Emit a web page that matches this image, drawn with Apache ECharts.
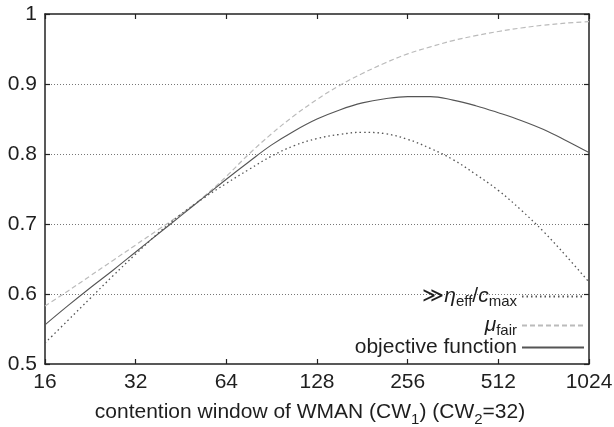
<!DOCTYPE html>
<html>
<head>
<meta charset="utf-8">
<script src="https://cdn.jsdelivr.net/npm/echarts@6/dist/echarts.min.js"></script>
<style>
html,body{margin:0;padding:0;background:#fff;}
#chart{width:614px;height:427px;}
</style>
</head>
<body>
<div id="chart"></div>
<script>
// contention window of WMAN (CW1), sampled every quarter doubling
const cw = [16, 19.03, 22.63, 26.91, 32, 38.05, 45.25, 53.82, 64, 76.11, 90.51, 107.63, 128, 152.22, 181.02, 215.27, 256, 304.44, 362.04, 430.54, 512, 608.87, 724.08, 861.08, 1024];
// eta_eff / c_max (dotted)
const etaEff = [0.530, 0.562, 0.594, 0.626, 0.657, 0.687, 0.714, 0.737, 0.758, 0.778, 0.797, 0.812, 0.822, 0.828, 0.831, 0.829, 0.821, 0.808, 0.792, 0.771, 0.748, 0.720, 0.689, 0.654, 0.617];
// mu_fair (dashed)
const muFair = [0.583, 0.604, 0.626, 0.648, 0.670, 0.692, 0.714, 0.739, 0.768, 0.800, 0.829, 0.855, 0.878, 0.898, 0.915, 0.930, 0.943, 0.953, 0.962, 0.969, 0.975, 0.980, 0.984, 0.987, 0.989];
// objective function (solid)
const objective = [0.556, 0.583, 0.609, 0.634, 0.660, 0.686, 0.712, 0.738, 0.764, 0.789, 0.813, 0.833, 0.850, 0.863, 0.873, 0.879, 0.882, 0.882, 0.877, 0.869, 0.859, 0.848, 0.835, 0.819, 0.802];
const xTicks = [16, 32, 64, 128, 256, 512, 1024];
const yTicks = [0.5, 0.6, 0.7, 0.8, 0.9, 1];
const seriesNames = ['eta', 'mu', 'objective function'];

const FONT = "'Liberation Sans', Arial, Helvetica, sans-serif";
const TXT = '#1e1e1e';
const FS = 21;
const pairs = (ys) => cw.map((x, i) => [x, ys[i]]);

const chart = echarts.init(document.getElementById('chart'), null, {renderer: 'canvas'});

const axisLineStyle = {color: '#222', width: 1.5};
const xBase = {
  type: 'log', logBase: 2, min: 16, max: 1024, splitNumber: 6,
  axisLine: {show: true, lineStyle: axisLineStyle},
  axisTick: {show: true, inside: true, length: 5, lineStyle: {color: '#222', width: 1.2}},
  splitLine: {show: false}
};
const yBase = {
  type: 'value', min: 0.5, max: 1, interval: 0.1,
  axisLine: {show: true, lineStyle: axisLineStyle},
  axisTick: {show: true, inside: true, length: 5, lineStyle: {color: '#222', width: 1.2}}
};

const legendRich = {
  n: {fontSize: FS, fontFamily: FONT, color: TXT, lineHeight: 21},
  i: {fontSize: FS, fontFamily: FONT, color: TXT, fontStyle: 'italic', lineHeight: 21},
  s: {fontSize: 15, fontFamily: FONT, color: TXT, lineHeight: 21, padding: [10, 0, 0, 0]}
};
const legendLabel = {
  'eta': '{n|≫}{i|η}{s|eff}{n|/}{i|c}{s|max}',
  'mu': '{i|μ}{s|fair}',
  'objective function': '{n|objective function}'
};
function mkLegend(name, top) {
  return {
    data: [name], orient: 'vertical', align: 'right', right: 29, top: top, padding: 0,
    itemWidth: 62, itemHeight: 14, itemGap: 0,
    formatter: (n) => legendLabel[n],
    textStyle: {fontSize: FS, fontFamily: FONT, color: TXT, rich: legendRich},
    itemStyle: {opacity: 0, color: 'rgba(0,0,0,0)', borderWidth: 0},
    selectedMode: false
  };
}

const option = {
  backgroundColor: '#fff',
  animation: false,
  textStyle: {fontFamily: FONT},
  grid: {left: 45, right: 25, top: 14, bottom: 63, containLabel: false, outerBoundsMode: 'none'},
  xAxis: [
    Object.assign({}, xBase, {
      position: 'bottom',
      axisLabel: {show: true, margin: 8, fontSize: FS, color: TXT, fontFamily: FONT,
        formatter: (v) => String(Math.round(v))},
      name: 'contention window of WMAN (CW{s|1}) (CW{s|2}=32)',
      nameLocation: 'middle', nameGap: 33,
      nameTextStyle: {fontSize: FS, color: TXT, fontFamily: FONT, lineHeight: 21, padding: [0, 14, 0, 0],
        rich: {s: {fontSize: 15, fontFamily: FONT, color: TXT, lineHeight: 21, padding: [14, 0, 0, 0]}}}
    }),
    Object.assign({}, xBase, {position: 'top', axisLabel: {show: false}})
  ],
  yAxis: [
    Object.assign({}, yBase, {
      position: 'left',
      axisLabel: {show: true, margin: 8, fontSize: FS, color: TXT, fontFamily: FONT,
        formatter: (v) => String(+v.toFixed(1))},
      splitLine: {show: true, showMinLine: false, showMaxLine: false,
        lineStyle: {color: '#777', type: [1, 2], width: 1}}
    }),
    Object.assign({}, yBase, {position: 'right', axisLabel: {show: false}, splitLine: {show: false}})
  ],
  legend: [mkLegend(seriesNames[0], 284), mkLegend(seriesNames[1], 313), mkLegend(seriesNames[2], 337)],
  series: [
    {name: seriesNames[0], type: 'line', data: pairs(etaEff), smooth: 0.4, symbol: 'none',
      itemStyle: {color: '#555'},
      lineStyle: {color: '#555', width: 1.3, type: [1.5, 3]}, z: 3},
    {name: seriesNames[1], type: 'line', data: pairs(muFair), smooth: 0.4, symbol: 'none',
      itemStyle: {color: '#bbb'},
      lineStyle: {color: '#bbb', width: 1.2, type: [5, 3]}, z: 2},
    {name: seriesNames[2], type: 'line', data: pairs(objective), smooth: 0.4, symbol: 'none',
      itemStyle: {color: '#555'},
      lineStyle: {color: '#555', width: 1.1, type: 'solid'}, z: 4}
  ]
};
chart.setOption(option);
</script>
</body>
</html>
